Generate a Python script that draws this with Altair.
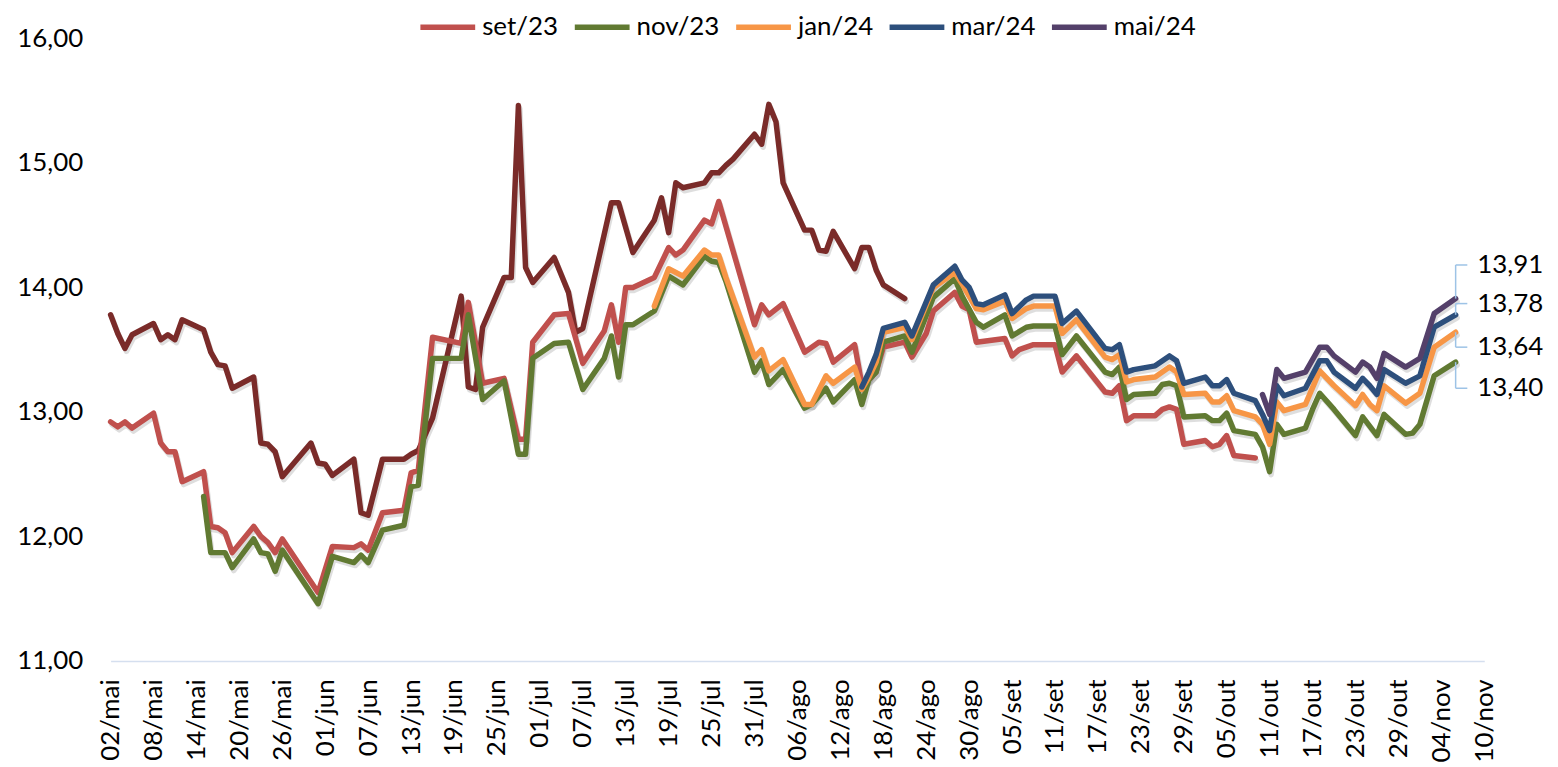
import altair as alt
import pandas as pd

# ---------------- data ----------------
ago23_dates = ["05-02","05-03","05-04","05-05","05-08","05-09","05-10","05-11","05-12",
               "05-15","05-16","05-17","05-18","05-19","05-22","05-23","05-24","05-25","05-26",
               "05-30","05-31","06-01","06-02","06-05","06-06","06-07","06-09","06-12","06-13",
               "06-14","06-16","06-20","06-21","06-22","06-23","06-26","06-27","06-28","06-29",
               "06-30","07-03","07-05","07-06","07-07","07-11","07-12","07-14","07-17","07-18",
               "07-19","07-20","07-21","07-24","07-25","07-26","07-27","07-28","07-31","08-01",
               "08-02","08-03","08-04","08-07","08-08","08-09","08-10","08-11","08-14","08-15",
               "08-16","08-17","08-18","08-21"]
ago23_vals = [13.78,13.63,13.51,13.62,13.71,13.58,13.62,13.58,13.74,
              13.66,13.48,13.38,13.37,13.19,13.28,12.75,12.74,12.68,12.48,
              12.75,12.59,12.58,12.49,12.62,12.19,12.17,12.62,12.62,12.66,
              12.69,12.95,13.93,13.20,13.18,13.68,14.08,14.08,15.46,14.16,
              14.04,14.24,13.96,13.64,13.67,14.68,14.68,14.28,14.54,14.72,
              14.44,14.84,14.80,14.84,14.92,14.92,14.98,15.03,15.23,15.15,
              15.47,15.33,14.84,14.46,14.46,14.30,14.29,14.45,14.15,14.32,
              14.32,14.14,14.02,13.91]

set23_dates = ["05-02","05-03","05-04","05-05","05-08","05-09","05-10","05-11","05-12",
               "05-15","05-16","05-17","05-18","05-19","05-22","05-23","05-24","05-25","05-26",
               "05-31","06-02","06-05","06-06","06-07","06-09","06-12","06-13","06-14","06-16",
               "06-20","06-21","06-23","06-26","06-28","06-29","06-30","07-03","07-05","07-07",
               "07-10","07-11","07-12","07-13","07-14","07-17","07-19","07-20","07-21","07-24",
               "07-25","07-26","07-31","08-01","08-02","08-04","08-07","08-09","08-10","08-11",
               "08-14","08-15","08-16","08-17","08-18","08-21","08-22","08-24","08-25","08-28",
               "08-29","08-30","08-31","09-04","09-05","09-06","09-07","09-08","09-11","09-12",
               "09-14","09-18","09-19","09-20","09-21","09-22","09-25","09-26","09-27","09-28",
               "09-29","10-02","10-03","10-04","10-05","10-06","10-09"]
set23_vals = [12.92,12.88,12.92,12.87,12.99,12.75,12.68,12.68,12.44,
              12.52,12.08,12.07,12.03,11.87,12.08,12.00,11.95,11.87,11.98,
              11.55,11.92,11.91,11.94,11.89,12.19,12.21,12.51,12.53,13.60,
              13.55,13.88,13.23,13.27,12.78,12.78,13.56,13.78,13.79,13.39,
              13.65,13.86,13.56,14.00,14.00,14.08,14.32,14.26,14.30,14.54,
              14.51,14.69,13.70,13.86,13.78,13.87,13.48,13.56,13.55,13.40,
              13.54,13.22,13.26,13.32,13.52,13.56,13.44,13.63,13.81,13.96,
              13.85,13.82,13.56,13.59,13.45,13.50,13.52,13.54,13.54,13.32,
              13.45,13.16,13.15,13.21,12.93,12.97,12.97,13.02,13.04,13.02,
              12.74,12.77,12.72,12.74,12.81,12.65,12.63]

nov23_dates = ["05-15","05-16","05-17","05-18","05-19","05-22","05-23","05-24","05-25","05-26",
               "05-31","06-02","06-05","06-06","06-07","06-09","06-12","06-13","06-14","06-16",
               "06-20","06-21","06-23","06-26","06-28","06-29","06-30","07-03","07-05","07-07",
               "07-10","07-11","07-12","07-13","07-14","07-17","07-19","07-21","07-24","07-25",
               "07-26","07-27","07-31","08-01","08-02","08-04","08-07","08-08","08-10","08-11",
               "08-14","08-15","08-16","08-17","08-18","08-21","08-22","08-25","08-28","08-29",
               "08-31","09-01","09-04","09-05","09-07","09-08","09-11","09-12","09-14","09-18",
               "09-19","09-20","09-21","09-22","09-25","09-26","09-27","09-28","09-29","10-02",
               "10-03","10-04","10-05","10-06","10-09","10-10","10-11","10-12","10-13","10-16",
               "10-17","10-18","10-20","10-23","10-24","10-26","10-27","10-30","10-31","11-01",
               "11-03","11-06"]
nov23_vals = [12.32,11.87,11.87,11.87,11.75,11.98,11.87,11.86,11.72,11.89,
              11.46,11.84,11.79,11.85,11.79,12.05,12.09,12.40,12.41,13.43,
              13.43,13.78,13.10,13.25,12.66,12.66,13.43,13.55,13.56,13.18,
              13.43,13.61,13.28,13.70,13.70,13.81,14.09,14.02,14.25,14.21,
              14.20,14.05,13.32,13.41,13.22,13.34,13.03,13.06,13.19,13.08,
              13.26,13.06,13.26,13.32,13.56,13.61,13.48,13.92,14.07,13.93,
              13.72,13.68,13.78,13.61,13.68,13.69,13.69,13.46,13.61,13.32,
              13.30,13.36,13.10,13.14,13.15,13.22,13.23,13.21,12.96,12.97,
              12.93,12.93,12.99,12.85,12.82,12.72,12.52,12.90,12.82,12.87,
              13.02,13.15,13.02,12.81,12.96,12.81,12.98,12.82,12.83,12.90,
              13.29,13.40]

jan24_dates = ["07-17","07-19","07-21","07-24","07-25","07-26","07-27","07-31","08-01","08-02",
               "08-04","08-07","08-08","08-10","08-11","08-14","08-15","08-16","08-17","08-18",
               "08-21","08-22","08-25","08-28","08-29","08-31","09-01","09-04","09-05","09-07",
               "09-08","09-11","09-12","09-14","09-18","09-19","09-20","09-21","09-22","09-25",
               "09-27","09-28","09-29","10-02","10-03","10-04","10-05","10-06","10-09","10-10",
               "10-11","10-12","10-13","10-16","10-18","10-20","10-23","10-24","10-25","10-26",
               "10-27","10-30","11-01","11-03","11-06"]
jan24_vals = [13.85,14.15,14.09,14.30,14.26,14.26,14.08,13.44,13.50,13.33,
              13.42,13.06,13.06,13.29,13.23,13.36,13.18,13.28,13.40,13.64,
              13.68,13.58,14.00,14.12,14.03,13.83,13.82,13.89,13.75,13.83,
              13.85,13.85,13.63,13.74,13.44,13.42,13.46,13.24,13.26,13.28,
              13.36,13.32,13.14,13.15,13.08,13.08,13.13,13.01,12.96,12.90,
              12.74,13.08,13.01,13.06,13.33,13.21,13.05,13.14,13.06,13.01,
              13.21,13.07,13.15,13.52,13.64]

mar24_dates = ["08-15","08-16","08-17","08-18","08-21","08-22","08-25","08-28","08-29","08-30",
               "08-31","09-01","09-04","09-05","09-07","09-08","09-11","09-12","09-14","09-18",
               "09-19","09-20","09-21","09-22","09-25","09-27","09-28","09-29","10-02","10-03",
               "10-04","10-05","10-06","10-09","10-10","10-11","10-12","10-13","10-16","10-18",
               "10-19","10-20","10-23","10-24","10-25","10-26","10-27","10-30","11-01","11-03",
               "11-06"]
mar24_vals = [13.20,13.32,13.46,13.67,13.72,13.61,14.02,14.17,14.06,14.00,
              13.87,13.86,13.94,13.79,13.90,13.93,13.93,13.71,13.81,13.51,
              13.50,13.54,13.32,13.34,13.37,13.45,13.41,13.23,13.28,13.21,
              13.21,13.26,13.15,13.09,12.98,12.85,13.21,13.13,13.19,13.41,
              13.41,13.32,13.19,13.27,13.21,13.14,13.34,13.23,13.29,13.68,
              13.78]

mai24_dates = ["10-10","10-11","10-12","10-13","10-16","10-18","10-19","10-20","10-23","10-24",
               "10-25","10-26","10-27","10-30","11-01","11-03","11-06"]
mai24_vals = [13.14,12.98,13.34,13.27,13.32,13.52,13.52,13.45,13.32,13.40,
              13.36,13.27,13.47,13.36,13.43,13.79,13.91]

series_names = ["ago/23", "set/23", "nov/23", "jan/24", "mar/24", "mai/24"]
series_colors = ["#7A2B29", "#C0504D", "#617A32", "#F79646", "#2D4F7C", "#54406A"]
legend_names = ["set/23", "nov/23", "jan/24", "mar/24", "mai/24"]

# end-of-line labels (last values) and where their text sits (layout)
end_series = ["mai/24", "mar/24", "jan/24", "nov/23"]
label_levels = [14.18, 13.87, 13.52, 13.19]

# ---------------- build tables ----------------
all_series = [
    ("ago/23", ago23_dates, ago23_vals),
    ("set/23", set23_dates, set23_vals),
    ("nov/23", nov23_dates, nov23_vals),
    ("jan/24", jan24_dates, jan24_vals),
    ("mar/24", mar24_dates, mar24_vals),
    ("mai/24", mai24_dates, mai24_vals),
]
rows = []
for name, ds, vs in all_series:
    for d, v in zip(ds, vs):
        rows.append({"date": f"2023-{d}T00:00:00", "value": v, "series": name})
df = pd.DataFrame(rows)

last = {name: (ds[-1], vs[-1]) for name, ds, vs in all_series}
ann = pd.DataFrame({
    "series": end_series,
    "date": [f"2023-{last[s][0]}T00:00:00" for s in end_series],
    "value": [last[s][1] for s in end_series],
    "ly": label_levels,
    "label": [f"{last[s][1]:.2f}".replace(".", ",") for s in end_series],
})

tick_dates = pd.date_range("2023-05-02", "2023-11-10", freq="6D")
tick_values = [alt.DateTime(year=t.year, month=t.month, date=t.day) for t in tick_dates]

FONT = "Lato"
FS = 26
W, H = 1379, 625

x_scale = alt.Scale(domain=[alt.DateTime(year=2023, month=5, date=2),
                            alt.DateTime(year=2023, month=11, date=10)], nice=False)
y_scale = alt.Scale(domain=[11, 16], nice=False, zero=False)

month_expr = "['jan','fev','mar','abr','mai','jun','jul','ago','set','out','nov','dez'][month(datum.value)]"

x_axis = alt.Axis(values=tick_values, labelExpr="timeFormat(datum.value, '%d') + '/' + " + month_expr,
                  labelAngle=270, labelFont=FONT, labelFontSize=FS, labelColor="#000000",
                  domainColor="#D5DFEF", domainWidth=1.5, ticks=False, grid=False,
                  labelPadding=18, title=None, labelOverlap=False, labelFlush=False, labelBound=False)
y_axis = alt.Axis(values=[11, 12, 13, 14, 15, 16],
                  labelExpr="replace(format(datum.value, '.2f'), '.', ',')",
                  labelFont=FONT, labelFontSize=FS, labelColor="#000000",
                  domain=False, ticks=False, grid=False, labelPadding=28, title=None)

# soft drop shadow under the lines (Excel-style line shadow)
shadow = alt.Chart(df).mark_line(strokeWidth=5.5, strokeJoin="round", strokeCap="round",
                                 color="#000000", opacity=0.13, xOffset=1.5, yOffset=3).encode(
    x=alt.X("date:T", scale=x_scale, axis=x_axis),
    y=alt.Y("value:Q", scale=y_scale, axis=y_axis),
    detail="series:N",
)

lines = alt.Chart(df).mark_line(strokeWidth=5.5, strokeJoin="round", strokeCap="round").encode(
    x=alt.X("date:T", scale=x_scale, axis=x_axis),
    y=alt.Y("value:Q", scale=y_scale, axis=y_axis),
    color=alt.Color("series:N",
                    scale=alt.Scale(domain=series_names, range=series_colors),
                    legend=alt.Legend(orient="none", legendX=308, legendY=-42,
                                      direction="horizontal", title=None, values=legend_names,
                                      symbolType="stroke", symbolSize=3025, symbolStrokeWidth=5.5,
                                      labelFont=FONT, labelFontSize=FS, labelColor="#000000",
                                      columnPadding=5, labelOffset=4, padding=0)),
)

leader_color = "#9DC3E6"
vlead = alt.Chart(ann).mark_rule(color=leader_color, strokeWidth=1.5).encode(
    x=alt.X("date:T", scale=x_scale),
    y=alt.Y("value:Q", scale=y_scale),
    y2="ly:Q",
)
hlead = alt.Chart(ann).mark_rule(color=leader_color, strokeWidth=1.5).encode(
    x=alt.X("date:T", scale=x_scale),
    x2=alt.value(1362),
    y=alt.Y("ly:Q", scale=y_scale),
)
labels = alt.Chart(ann).mark_text(align="left", baseline="middle", font=FONT, fontSize=FS,
                                  color="#000000").encode(
    x=alt.value(1372),
    y=alt.Y("ly:Q", scale=y_scale),
    text="label:N",
)

chart = alt.layer(shadow, lines, vlead, hlead, labels).properties(
    width=W, height=H,
    autosize=alt.AutoSizeParams(type="none"),
    padding={"left": 103, "top": 29, "right": 66, "bottom": 110},
).configure_view(stroke=None)

chart.save("out.html", embed_options={"renderer": "svg", "actions": False})
